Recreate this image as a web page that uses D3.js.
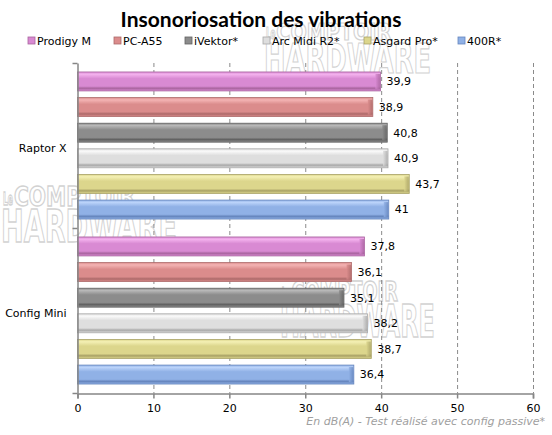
<!DOCTYPE html>
<html>
<head>
<meta charset="utf-8">
<script src="https://cdn.jsdelivr.net/npm/d3@7"></script>
<style>
  body { margin: 0; background: #fff; }
  svg { display: block; }
</style>
</head>
<body>
<div id="chart"></div>
<script>
// data
var categories = ['Raptor X', 'Config Mini'];
var seriesNames = ['Prodigy M', 'PC-A55', 'iVektor*', 'Arc Midi R2*', 'Asgard Pro*', '400R*'];
var raptorValues = [39.9, 38.9, 40.8, 40.9, 43.7, 41];
var miniValues = [37.8, 36.1, 35.1, 38.2, 38.7, 36.4];
var xTicks = [0, 10, 20, 30, 40, 50, 60];

// light / mid / dark for each series
var barColors = [
	['#f4b2ee', '#d98ad3', '#a9649f'],
	['#f4b4b4', '#db8c8c', '#ad6a6a'],
	['#b8b8b8', '#8c8c8c', '#626262'],
	['#fafafa', '#dedede', '#a8a8a8'],
	['#f4f0b4', '#dcd68c', '#a9a266'],
	['#bcd4fa', '#90b1e6', '#6585bd'],
];

var width = 552;
var height = 435;
var margin = { top: 63, right: 19, bottom: 42, left: 77.5 };

var svg = d3.select('#chart').append('svg')
	.attr('width', width)
	.attr('height', height)
	.style('font-family', 'DejaVu Sans, Verdana, sans-serif');

var defs = svg.append('defs');
barColors.forEach(function(c, i) {
	var g = defs.append('linearGradient')
		.attr('id', 'grad' + i)
		.attr('x1', 0).attr('y1', 0).attr('x2', 0).attr('y2', 1);
	g.append('stop').attr('offset', '0%').attr('stop-color', c[1]);
	g.append('stop').attr('offset', '12%').attr('stop-color', c[0]);
	g.append('stop').attr('offset', '35%').attr('stop-color', c[1]);
	g.append('stop').attr('offset', '75%').attr('stop-color', c[1]);
	g.append('stop').attr('offset', '86%').attr('stop-color', c[2]);
	g.append('stop').attr('offset', '100%').attr('stop-color', c[1]);
	var e = defs.append('linearGradient')
		.attr('id', 'cap' + i)
		.attr('x1', 0).attr('y1', 0).attr('x2', 1).attr('y2', 0);
	e.append('stop').attr('offset', '0%').attr('stop-color', c[1]);
	e.append('stop').attr('offset', '100%').attr('stop-color', c[2]);
});

// watermark, drawn behind the bars
function watermark(x0, y0, sx, sy) {
	var g = svg.append('g')
		.attr('transform', 'translate(' + x0 + ',' + y0 + ') scale(' + sx + ',' + sy + ')')
		.attr('fill', '#fff')
		.attr('stroke', '#d2d2d2')
		.attr('stroke-width', 1.3)
		.style('font-family', 'DejaVu Sans Condensed, sans-serif')
		.style('font-weight', 'bold');
	g.append('text').attr('x', 2).attr('y', 18).attr('font-size', 17)
		.attr('textLength', 10).attr('lengthAdjust', 'spacingAndGlyphs').text('Le');
	g.append('text').attr('x', 13).attr('y', 19).attr('font-size', 26)
		.attr('textLength', 121).attr('lengthAdjust', 'spacingAndGlyphs').text('COMPTOIR');
	g.append('text').attr('x', 0).attr('y', 55).attr('font-size', 45)
		.attr('textLength', 176).attr('lengthAdjust', 'spacingAndGlyphs').text('HARDWARE');
}
watermark(1, 187, 1, 1);
watermark(264, 23, 0.95, 0.91);
watermark(280, 282, 0.88, 1);

var x = d3.scaleLinear()
	.domain([0, 60])
	.range([margin.left, width - margin.right]);

var y0 = d3.scaleBand()
	.domain(categories)
	.range([margin.top, height - margin.bottom]);

var y1 = d3.scaleBand()
	.domain(seriesNames)
	.range([0, y0.bandwidth()])
	.paddingInner(0.26)
	.paddingOuter(0.35);

// dashed gridlines
svg.append('g').selectAll('line')
	.data(xTicks.slice(1))
	.enter().append('line')
	.attr('x1', function(d) { return x(d) + 0.5; })
	.attr('x2', function(d) { return x(d) + 0.5; })
	.attr('y1', margin.top)
	.attr('y2', height - margin.bottom)
	.attr('stroke', '#8a8a8a')
	.attr('stroke-dasharray', '4,3');

var rows = [raptorValues, miniValues];
categories.forEach(function(cat, ci) {
	var g = svg.append('g')
		.attr('transform', 'translate(0,' + y0(cat) + ')');
	var dat = seriesNames.map(function(s, i) { return { name: s, value: rows[ci][i], idx: i }; });

	g.selectAll('rect.bar')
		.data(dat)
		.enter().append('rect')
		.attr('class', 'bar')
		.attr('x', x(0))
		.attr('y', function(d) { return y1(d.name); })
		.attr('width', function(d) { return x(d.value) - x(0); })
		.attr('height', y1.bandwidth())
		.attr('fill', function(d) { return 'url(#grad' + d.idx + ')'; })
		.attr('stroke', function(d) { return barColors[d.idx][2]; })
		.attr('stroke-width', 0.8);

	// bevelled end cap
	g.selectAll('rect.cap')
		.data(dat)
		.enter().append('rect')
		.attr('class', 'cap')
		.attr('x', function(d) { return x(d.value) - 5; })
		.attr('y', function(d) { return y1(d.name) + 2; })
		.attr('width', 4.5)
		.attr('height', y1.bandwidth() - 4)
		.attr('fill', function(d) { return 'url(#cap' + d.idx + ')'; })
		.attr('opacity', 0.8);

	g.selectAll('text.val')
		.data(dat)
		.enter().append('text')
		.attr('class', 'val')
		.attr('x', function(d) { return x(d.value) + 6; })
		.attr('y', function(d) { return y1(d.name) + y1.bandwidth() / 2; })
		.attr('dy', '0.35em')
		.attr('font-size', 11)
		.attr('fill', '#000')
		.text(function(d) { return String(d.value).replace('.', ','); });
});

// axes
var xAxis = d3.axisBottom(x).tickValues(xTicks).tickSize(5).tickPadding(6);
var gx = svg.append('g')
	.attr('transform', 'translate(0,' + (height - margin.bottom + 0.5) + ')')
	.call(xAxis);
gx.selectAll('path, line').attr('stroke', '#868686').attr('stroke-width', 1.5);
gx.selectAll('text').attr('font-size', 11).attr('fill', '#000')
	.style('font-family', 'DejaVu Sans, Verdana, sans-serif');

var yAxis = d3.axisLeft(y0).tickSize(0).tickPadding(11);
var gy = svg.append('g')
	.attr('transform', 'translate(' + margin.left + ',0)')
	.call(yAxis);
gy.select('path').attr('stroke', '#868686').attr('stroke-width', 1.5);
gy.selectAll('text').attr('font-size', 11).attr('fill', '#000')
	.attr('dy', '0.6em')
	.style('font-family', 'DejaVu Sans, Verdana, sans-serif');
// category boundary ticks
var bounds = [margin.top, y0(categories[1]), height - margin.bottom];
gy.selectAll('line.bound')
	.data(bounds)
	.enter().append('line')
	.attr('class', 'bound')
	.attr('x1', -5).attr('x2', 0)
	.attr('y1', function(d) { return d + 0.5; })
	.attr('y2', function(d) { return d + 0.5; })
	.attr('stroke', '#868686')
	.attr('stroke-width', 1.5);

// title
svg.append('text')
	.attr('x', 261)
	.attr('y', 27)
	.attr('text-anchor', 'middle')
	.attr('font-size', 21)
	.attr('font-weight', 'bold')
	.style('font-family', 'Lato, sans-serif')
	.text('Insonoriosation des vibrations');

// legend
var legendX = [28, 114, 185, 263, 364, 458];
var legend = svg.append('g').attr('transform', 'translate(0,41)');
seriesNames.forEach(function(s, i) {
	legend.append('rect')
		.attr('x', legendX[i]).attr('y', -4)
		.attr('width', 7).attr('height', 7)
		.attr('fill', barColors[i][1])
		.attr('stroke', barColors[i][2])
		.attr('stroke-width', 0.8);
	legend.append('text')
		.attr('x', legendX[i] + 9)
		.attr('y', 0)
		.attr('dy', '0.35em')
		.attr('font-size', 11)
		.text(s);
});

// footnote
svg.append('text')
	.attr('x', 545)
	.attr('y', 425)
	.attr('text-anchor', 'end')
	.attr('font-size', 11)
	.attr('font-style', 'italic')
	.attr('fill', '#a0a0a0')
	.text('En dB(A) - Test réalisé avec config passive*');
</script>
</body>
</html>
